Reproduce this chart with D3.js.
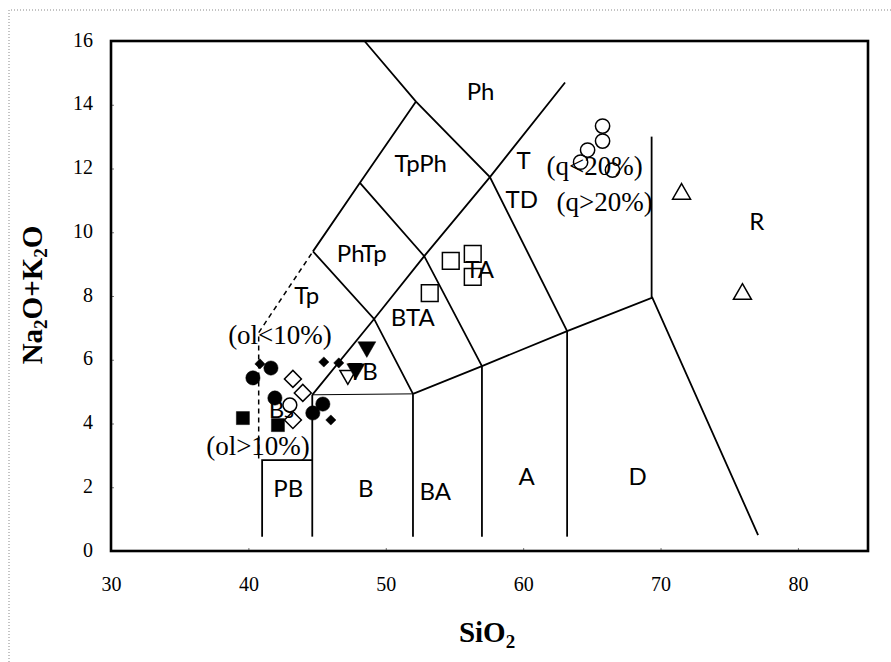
<!DOCTYPE html>
<html>
<head>
<meta charset="utf-8">
<script src="https://cdn.jsdelivr.net/npm/d3@7"></script>
<style>
  body { margin: 0; background: #fff; }
  svg { display: block; }
</style>
</head>
<body>
<svg id="chart" width="891" height="662"></svg>
<script>
// axis ticks
const xTicks = [30, 40, 50, 60, 70, 80];
const yTicks = [0, 2, 4, 6, 8, 10, 12, 14, 16];

// TAS field boundaries (SiO2, Na2O+K2O)
const solidLines = [
  [[41, 0.45], [41, 2.85], [44.65, 2.85]],
  [[44.65, 0.45], [44.65, 4.9]],
  [[51.98, 0.45], [51.98, 4.93], [57, 5.8], [63.2, 6.9], [69.4, 7.95], [77.1, 0.5]],
  [[57, 0.45], [57, 5.8]],
  [[63.2, 0.45], [63.2, 6.9]],
  [[69.35, 7.95], [69.35, 13]],
  [[44.65, 4.9], [49.15, 7.28], [52.8, 9.25], [57.58, 11.73], [63.05, 14.7]],
  [[44.7, 9.4], [48.12, 11.55], [52.2, 14.1]],
  [[48.45, 16], [52.2, 14.1], [57.58, 11.73], [63.2, 6.9]],
  [[44.7, 9.4], [49.15, 7.28], [51.98, 4.93]],
  [[48.12, 11.55], [52.8, 9.25], [57, 5.8]]
];
const thinLines = [
  [[44.65, 4.9], [51.98, 4.93]]
];
const dashedLines = [
  [[40.75, 2.9], [40.75, 6.85], [44.7, 9.4]]
];

// field names
const fieldNames = ['Ph', 'TpPh', 'PhTp', 'Tp', 'BTA', 'TA', 'T', 'TD', 'R', 'TB', 'Bs', 'PB', 'B', 'BA', 'A', 'D'];
const fieldX = [56.9, 52.55, 48.25, 44.25, 51.96, 56.84, 60.04, 59.9, 77.0, 48.33, 42.4, 42.9, 48.55, 53.6, 60.25, 68.33];
const fieldY = [14.43, 12.17, 9.35, 8.03, 7.34, 8.85, 12.24, 11.04, 10.35, 5.65, 4.45, 1.98, 1.98, 1.88, 2.35, 2.35];

const noteNames = ['(q<20%)', '(q>20%)', '(ol<10%)', '(ol>10%)'];
const noteX = [65.2, 65.93, 42.3, 40.7];
const noteY = [12.08, 10.95, 6.78, 3.3];

// samples
const openCircles = [[65.78, 13.33], [65.78, 12.86], [64.69, 12.58], [64.18, 12.2], [66.5, 11.95]];
const openTriangles = [[71.53, 11.2], [75.96, 8.06]];
const openSquares = [[54.73, 9.1], [56.33, 9.32], [56.33, 8.6], [53.2, 8.09]];
const filledCircles = [[41.64, 5.74], [40.33, 5.43], [41.93, 4.8], [45.42, 4.61], [44.69, 4.33]];
const filledSquares = [[39.6, 4.17], [42.15, 3.95]];
const openDiamonds = [[43.24, 5.4], [43.96, 4.96], [43.24, 4.11]];
const whiteCircles = [[43.02, 4.58]];
const filledDiamonds = [[45.49, 5.93], [46.58, 5.9], [46.0, 4.11], [40.84, 5.87]];
const filledDownTriangles = [[48.62, 6.4], [47.82, 5.71]];
const openDownTriangles = [[47.24, 5.52]];

const svg = d3.select('#chart');
const serif = '"Liberation Serif", "Times New Roman", serif';
const sans = 'Lato, "DejaVu Sans", sans-serif';

// scanned page border
svg.append('path')
  .attr('d', 'M9,662 L9,10 L891,10')
  .attr('fill', 'none')
  .attr('stroke', '#888')
  .attr('stroke-width', 1)
  .attr('stroke-dasharray', '1,2');

const x = d3.scaleLinear().domain([30, 85.1]).range([111, 868]);
const y = d3.scaleLinear().domain([0, 16]).range([551, 41]);

const xAxis = svg.append('g')
  .attr('transform', 'translate(0,' + y(0) + ')')
  .call(d3.axisBottom(x).tickValues(xTicks).tickSize(-3).tickPadding(26));
xAxis.select('.domain').remove();
xAxis.attr('font-family', null).attr('font-size', null);
xAxis.selectAll('line').attr('stroke', '#777');
xAxis.selectAll('text')
  .style('font-family', serif)
  .style('font-size', '20px')
  .attr('fill', '#000');

const yAxis = svg.append('g')
  .attr('transform', 'translate(' + x(30) + ',0)')
  .call(d3.axisLeft(y).tickValues(yTicks).tickSize(-3).tickPadding(18));
yAxis.select('.domain').remove();
yAxis.attr('font-family', null).attr('font-size', null);
yAxis.selectAll('line').attr('stroke', '#777');
yAxis.selectAll('text')
  .style('font-family', serif)
  .style('font-size', '20px')
  .attr('dy', '0.25em')
  .attr('fill', '#000');

// field boundaries
const line = d3.line().x(d => x(d[0])).y(d => y(d[1]));

svg.append('g').selectAll('path')
  .data(solidLines)
  .join('path')
  .attr('d', line)
  .attr('fill', 'none')
  .attr('stroke', '#000')
  .attr('stroke-width', 1.8);

svg.append('g').selectAll('path')
  .data(thinLines)
  .join('path')
  .attr('d', line)
  .attr('fill', 'none')
  .attr('stroke', '#000')
  .attr('stroke-width', 1);

svg.append('g').selectAll('path')
  .data(dashedLines)
  .join('path')
  .attr('d', line)
  .attr('fill', 'none')
  .attr('stroke', '#000')
  .attr('stroke-width', 1.5)
  .attr('stroke-dasharray', '5,4');

// plot frame
svg.append('rect')
  .attr('x', x(30))
  .attr('y', y(16))
  .attr('width', x(85.1) - x(30))
  .attr('height', y(0) - y(16))
  .attr('fill', 'none')
  .attr('stroke', '#000')
  .attr('stroke-width', 2.6);

// field labels
svg.append('g').selectAll('text')
  .data(fieldNames)
  .join('text')
  .attr('x', (d, i) => x(fieldX[i]))
  .attr('y', (d, i) => y(fieldY[i]))
  .attr('dy', '0.36em')
  .attr('text-anchor', 'middle')
  .style('font-family', sans)
  .style('font-size', '24px')
  .text(d => d);

svg.append('g').selectAll('text')
  .data(noteNames)
  .join('text')
  .attr('x', (d, i) => x(noteX[i]))
  .attr('y', (d, i) => y(noteY[i]))
  .attr('dy', '0.35em')
  .attr('text-anchor', 'middle')
  .style('font-family', serif)
  .style('font-size', '27px')
  .text(d => d);

// sample symbols
function drawSymbols(data, type, size, filled, rotate, fillColor) {
  const sym = d3.symbol().type(type).size(size);
  svg.append('g').selectAll('path')
    .data(data)
    .join('path')
    .attr('d', sym)
    .attr('transform', d => 'translate(' + x(d[0]) + ',' + y(d[1]) + ') rotate(' + rotate + ')')
    .attr('fill', filled ? '#000' : (fillColor || 'none'))
    .attr('stroke', '#000')
    .attr('stroke-width', filled ? 0.5 : 1.5);
}

drawSymbols(openCircles, d3.symbolCircle, 160, false, 0);
drawSymbols(openTriangles, d3.symbolTriangle, 140, false, 0);
drawSymbols(openSquares, d3.symbolSquare, 280, false, 0);
drawSymbols(openDiamonds, d3.symbolSquare, 144, false, 45);
drawSymbols(whiteCircles, d3.symbolCircle, 150, false, 0, '#fff');
drawSymbols(filledSquares, d3.symbolSquare, 170, true, 0);
drawSymbols(filledCircles, d3.symbolCircle, 160, true, 0);
drawSymbols(filledDiamonds, d3.symbolSquare, 52, true, 45);
drawSymbols(openDownTriangles, d3.symbolTriangle, 110, false, 180);
drawSymbols(filledDownTriangles, d3.symbolTriangle, 140, true, 180);

// axis titles
const yTitle = svg.append('text')
  .attr('transform', 'translate(42,295) rotate(-90)')
  .attr('text-anchor', 'middle')
  .style('font-family', serif)
  .style('font-weight', 'bold')
  .style('font-size', '29px');
yTitle.append('tspan').text('Na');
yTitle.append('tspan').style('font-size', '19px').attr('dy', 5).text('2');
yTitle.append('tspan').attr('dy', -5).text('O+K');
yTitle.append('tspan').style('font-size', '19px').attr('dy', 5).text('2');
yTitle.append('tspan').attr('dy', -5).text('O');

const xTitle = svg.append('text')
  .attr('x', 487)
  .attr('y', 642)
  .attr('text-anchor', 'middle')
  .style('font-family', serif)
  .style('font-weight', 'bold')
  .style('font-size', '29px');
xTitle.append('tspan').text('SiO');
xTitle.append('tspan').style('font-size', '19px').attr('dy', 6).text('2');
</script>
</body>
</html>
